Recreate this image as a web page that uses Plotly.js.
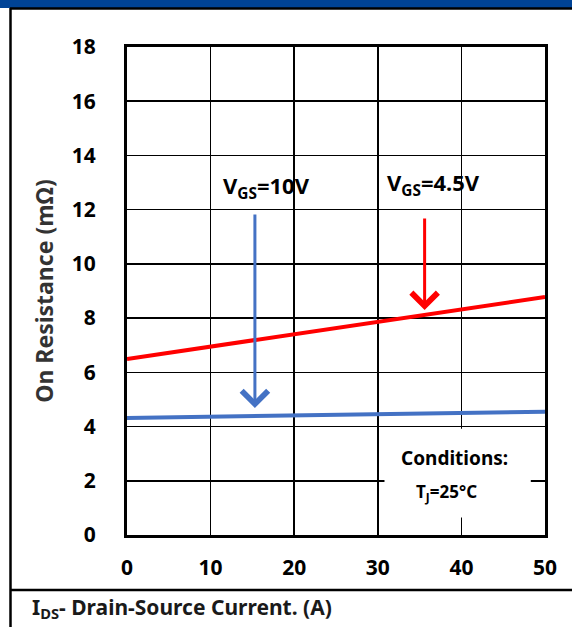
<!DOCTYPE html>
<html>
<head>
<meta charset="utf-8">
<script src="https://cdn.plot.ly/plotly-3.0.1.min.js"></script>
<style>
html,body{margin:0;padding:0;background:#fff;}
#chart{width:572px;height:627px;}
</style>
</head>
<body>
<div id="chart"></div>
<script>
// Data
const ids = [0, 50];                 // Drain-source current (A)
const rdsonVgs45 = [6.49, 8.78];     // On resistance (mΩ) at VGS=4.5V
const rdsonVgs10 = [4.32, 4.55];     // On resistance (mΩ) at VGS=10V
const xTicks = [0, 10, 20, 30, 40, 50];
const yTicks = [0, 2, 4, 6, 8, 10, 12, 14, 16, 18];
// arrows: [x, yTail, yTip]
const arrow10 = [15.3, 11.88, 4.68];
const arrow45 = [35.6, 11.73, 8.3];

const FONT = "Noto Sans, DejaVu Sans, sans-serif";
const L = 127, R = 27, T = 47, B = 92, W = 572, H = 627;
const pw = W - L - R, ph = H - T - B;
const px = x => (x - L) / pw;
const py = y => (H - B - y) / ph;

const traces = [
  {x: ids, y: rdsonVgs45, mode: 'lines', line: {color: '#ff0000', width: 4}, hoverinfo: 'skip'},
  {x: ids, y: rdsonVgs10, mode: 'lines', line: {color: '#4472c4', width: 4}, hoverinfo: 'skip'}
];

const layout = {
  width: W, height: H,
  margin: {l: L, r: R, t: T, b: B, pad: 0},
  paper_bgcolor: '#ffffff', plot_bgcolor: '#ffffff',
  showlegend: false,
  font: {family: FONT, color: '#000'},
  xaxis: {
    range: [0, 50], tickvals: xTicks, ticktext: xTicks.map(String),
    showgrid: true, gridcolor: '#000', gridwidth: 1.6,
    showline: true, linecolor: '#000', linewidth: 3, mirror: true,
    zeroline: false, ticks: '', ticklabelstandoff: 12,
    tickfont: {family: FONT, size: 21, color: '#000', weight: 'bold'},
    fixedrange: true
  },
  yaxis: {
    range: [0, 18], tickvals: yTicks, ticktext: yTicks.map(String),
    showgrid: true, gridcolor: '#000', gridwidth: 1.6,
    showline: true, linecolor: '#000', linewidth: 3, mirror: true,
    zeroline: false, ticks: '', ticklabelstandoff: 24,
    tickfont: {family: FONT, size: 21, color: '#000', weight: 'bold'},
    title: {text: 'On Resistance (mΩ)', standoff: 12,
            font: {family: FONT, size: 23, color: '#333333', weight: 'bold'}},
    fixedrange: true
  },
  shapes: [
    {type: 'rect', xref: 'paper', yref: 'paper', x0: px(0), x1: px(W), y0: py(8), y1: py(0),
     fillcolor: '#004396', line: {width: 0}, layer: 'above'},
    {type: 'line', xref: 'paper', yref: 'paper', x0: px(10), x1: px(W), y0: py(8.5), y1: py(8.5),
     line: {color: '#000', width: 2.5}, layer: 'above'},
    {type: 'line', xref: 'paper', yref: 'paper', x0: px(10.5), x1: px(10.5), y0: py(8), y1: py(H),
     line: {color: '#000', width: 2.5}, layer: 'above'},
    {type: 'line', xref: 'paper', yref: 'paper', x0: px(10), x1: px(W), y0: py(590), y1: py(590),
     line: {color: '#000', width: 2.5}, layer: 'above'},
    {type: 'rect', xref: 'x', yref: 'y', x0: 30.8, x1: 48.3, y0: 0.65, y1: 3.92,
     fillcolor: '#ffffff', line: {width: 0}, layer: 'above'}
  ],
  annotations: [
    {xref: 'x', yref: 'y', axref: 'x', ayref: 'y', x: arrow10[0], y: arrow10[2], ax: arrow10[0], ay: arrow10[1],
     text: '', showarrow: true, arrowhead: 4, arrowsize: 1.7, arrowwidth: 3, arrowcolor: '#4472c4', standoff: 0, startstandoff: 0},
    {xref: 'x', yref: 'y', axref: 'x', ayref: 'y', x: arrow45[0], y: arrow45[2], ax: arrow45[0], ay: arrow45[1],
     text: '', showarrow: true, arrowhead: 4, arrowsize: 1.7, arrowwidth: 3, arrowcolor: '#ff0000', standoff: 0, startstandoff: 0},
    {xref: 'x', yref: 'y', x: 11.3, y: 12.85, xanchor: 'left', yanchor: 'middle', showarrow: false,
     text: '<b>V<sub>GS</sub>=10V</b>', font: {family: FONT, size: 22, color: '#000'}},
    {xref: 'x', yref: 'y', x: 30.9, y: 12.95, xanchor: 'left', yanchor: 'middle', showarrow: false,
     text: '<b>V<sub>GS</sub>=4.5V</b>', font: {family: FONT, size: 22, color: '#000'}},
    {xref: 'x', yref: 'y', x: 32.5, y: 2.84, xanchor: 'left', yanchor: 'middle', showarrow: false,
     text: '<b>Conditions:</b>', font: {family: FONT, size: 19, color: '#000'}},
    {xref: 'x', yref: 'y', x: 38.2, y: 1.55, xanchor: 'center', yanchor: 'middle', showarrow: false,
     text: '<b>T<sub>J</sub>=25°C</b>', font: {family: FONT, size: 17, color: '#000'}},
    {xref: 'paper', yref: 'paper', x: px(30), y: py(608), xanchor: 'left', yanchor: 'middle', showarrow: false,
     text: '<b>I<sub>DS</sub>- Drain-Source Current. (A)</b>', font: {family: FONT, size: 21, color: '#1a1a1a'}}
  ]
};

Plotly.newPlot('chart', traces, layout, {staticPlot: true, displayModeBar: false});
</script>
</body>
</html>
